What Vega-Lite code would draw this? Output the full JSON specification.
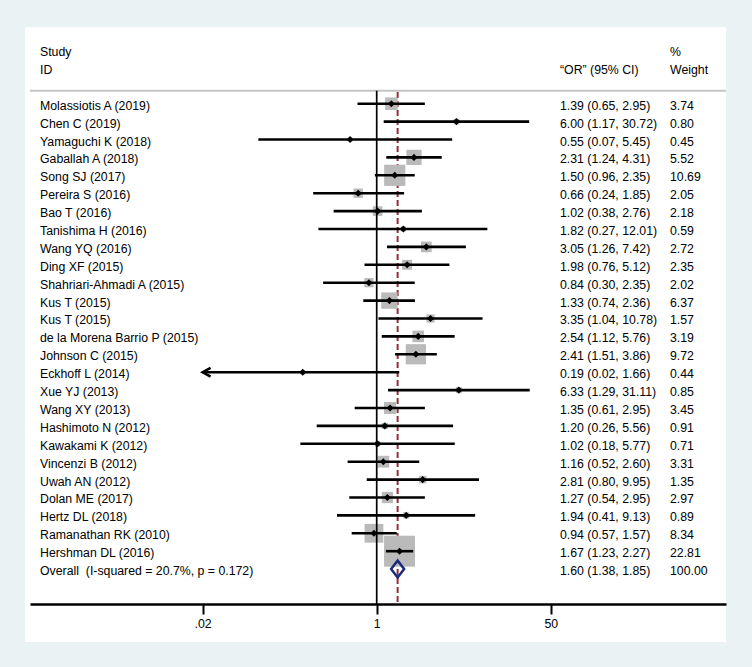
{
  "$schema": "https://vega.github.io/schema/vega-lite/v6.json",
  "width": 701,
  "height": 615,
  "autosize": {"type": "none"},
  "padding": {"left": 25, "top": 27, "right": 26, "bottom": 25},
  "background": "#eaf2f3",
  "config": {
    "view": {"fill": "white", "stroke": null},
    "axisY": {"disable": true},
    "text": {"font": "Liberation Sans", "fontSize": 12.3, "color": "black"}
  },
  "data": {
    "values": [
      {"row": 0, "study": "Molassiotis A (2019)", "or": 1.39, "lo": 0.65, "hi": 2.95, "w": 3.74, "type": "study"},
      {"row": 1, "study": "Chen C (2019)", "or": 6.00, "lo": 1.17, "hi": 30.72, "w": 0.80, "type": "study"},
      {"row": 2, "study": "Yamaguchi K (2018)", "or": 0.55, "lo": 0.07, "hi": 5.45, "w": 0.45, "type": "study"},
      {"row": 3, "study": "Gaballah A (2018)", "or": 2.31, "lo": 1.24, "hi": 4.31, "w": 5.52, "type": "study"},
      {"row": 4, "study": "Song SJ (2017)", "or": 1.50, "lo": 0.96, "hi": 2.35, "w": 10.69, "type": "study"},
      {"row": 5, "study": "Pereira S (2016)", "or": 0.66, "lo": 0.24, "hi": 1.85, "w": 2.05, "type": "study"},
      {"row": 6, "study": "Bao T (2016)", "or": 1.02, "lo": 0.38, "hi": 2.76, "w": 2.18, "type": "study"},
      {"row": 7, "study": "Tanishima H (2016)", "or": 1.82, "lo": 0.27, "hi": 12.01, "w": 0.59, "type": "study"},
      {"row": 8, "study": "Wang YQ (2016)", "or": 3.05, "lo": 1.26, "hi": 7.42, "w": 2.72, "type": "study"},
      {"row": 9, "study": "Ding XF (2015)", "or": 1.98, "lo": 0.76, "hi": 5.12, "w": 2.35, "type": "study"},
      {"row": 10, "study": "Shahriari-Ahmadi A (2015)", "or": 0.84, "lo": 0.30, "hi": 2.35, "w": 2.02, "type": "study"},
      {"row": 11, "study": "Kus T (2015)", "or": 1.33, "lo": 0.74, "hi": 2.36, "w": 6.37, "type": "study"},
      {"row": 12, "study": "Kus T (2015)", "or": 3.35, "lo": 1.04, "hi": 10.78, "w": 1.57, "type": "study"},
      {"row": 13, "study": "de la Morena Barrio P (2015)", "or": 2.54, "lo": 1.12, "hi": 5.76, "w": 3.19, "type": "study"},
      {"row": 14, "study": "Johnson C (2015)", "or": 2.41, "lo": 1.51, "hi": 3.86, "w": 9.72, "type": "study"},
      {"row": 15, "study": "Eckhoff L (2014)", "or": 0.19, "lo": 0.02, "hi": 1.66, "w": 0.44, "type": "study"},
      {"row": 16, "study": "Xue YJ (2013)", "or": 6.33, "lo": 1.29, "hi": 31.11, "w": 0.85, "type": "study"},
      {"row": 17, "study": "Wang XY (2013)", "or": 1.35, "lo": 0.61, "hi": 2.95, "w": 3.45, "type": "study"},
      {"row": 18, "study": "Hashimoto N (2012)", "or": 1.20, "lo": 0.26, "hi": 5.56, "w": 0.91, "type": "study"},
      {"row": 19, "study": "Kawakami K (2012)", "or": 1.02, "lo": 0.18, "hi": 5.77, "w": 0.71, "type": "study"},
      {"row": 20, "study": "Vincenzi B (2012)", "or": 1.16, "lo": 0.52, "hi": 2.60, "w": 3.31, "type": "study"},
      {"row": 21, "study": "Uwah AN (2012)", "or": 2.81, "lo": 0.80, "hi": 9.95, "w": 1.35, "type": "study"},
      {"row": 22, "study": "Dolan ME (2017)", "or": 1.27, "lo": 0.54, "hi": 2.95, "w": 2.97, "type": "study"},
      {"row": 23, "study": "Hertz DL (2018)", "or": 1.94, "lo": 0.41, "hi": 9.13, "w": 0.89, "type": "study"},
      {"row": 24, "study": "Ramanathan RK (2010)", "or": 0.94, "lo": 0.57, "hi": 1.57, "w": 8.34, "type": "study"},
      {"row": 25, "study": "Hershman DL (2016)", "or": 1.67, "lo": 1.23, "hi": 2.27, "w": 22.81, "type": "study"},
      {"row": 26, "study": "Overall\u00a0 (I-squared = 20.7%, p = 0.172)", "or": 1.60, "lo": 1.38, "hi": 1.85, "w": 100.00, "type": "overall"}
    ]
  },
  "layer": [
    {
      "data": {"values": [{}]},
      "mark": {"type": "rule", "color": "#c4c4c4", "strokeWidth": 2},
      "encoding": {
        "x": {"datum": 0.0004145, "type": "quantitative", "scale": {"type": "log", "domain": [0.0004145, 2557], "range": [5, 701], "nice": false, "zero": false}},
        "x2": {"datum": 2557},
        "y": {"datum": -0.726, "type": "quantitative", "scale": {"domain": [-4.285, 30.073], "reverse": true, "nice": false, "zero": false}}
      }
    },
    {
      "transform": [{"filter": "datum.type == 'overall'"}],
      "mark": {"type": "rule", "color": "#8f2f3f", "strokeWidth": 2, "strokeDash": [6, 3]},
      "encoding": {
        "x": {"field": "or", "type": "quantitative"},
        "y": {"datum": -0.654, "type": "quantitative"},
        "y2": {"datum": 27.95}
      }
    },
    {
      "transform": [{"filter": "datum.type == 'study'"}],
      "mark": {"type": "point", "shape": "square", "filled": true, "color": "#bababa", "opacity": 1},
      "encoding": {
        "x": {"field": "or", "type": "quantitative"},
        "y": {"field": "row", "type": "quantitative"},
        "size": {"field": "w", "type": "quantitative", "scale": {"domain": [0, 22.81], "range": [0, 960]}, "legend": null}
      }
    },
    {
      "data": {"values": [{}]},
      "mark": {"type": "rule", "color": "black", "strokeWidth": 1.7},
      "encoding": {
        "x": {"datum": 1, "type": "quantitative"},
        "y": {"datum": -0.726, "type": "quantitative"},
        "y2": {"datum": 27.95}
      }
    },
    {
      "transform": [{"filter": "datum.type == 'study'"}],
      "mark": {"type": "rule", "color": "black", "strokeWidth": 2.6},
      "encoding": {
        "x": {"field": "lo", "type": "quantitative", "title": null, "axis": {"values": [0.02, 1, 50], "labelExpr": "datum.value < 0.5 ? '.02' : (datum.value < 5 ? '1' : '50')", "title": null, "offset": -38, "domainColor": "black", "domainWidth": 2.5, "tickColor": "black", "tickWidth": 2, "tickSize": 10, "labelFont": "Liberation Sans", "labelFontSize": 12.3, "labelColor": "black", "labelPadding": 3, "grid": false, "domainCap": "butt"}},
        "x2": {"field": "hi"},
        "y": {"field": "row", "type": "quantitative"}
      }
    },
    {
      "transform": [{"filter": "datum.type == 'study'"}],
      "mark": {"type": "point", "shape": "diamond", "filled": true, "color": "black", "size": 50, "opacity": 1},
      "encoding": {
        "x": {"field": "or", "type": "quantitative"},
        "y": {"field": "row", "type": "quantitative"}
      }
    },
    {
      "transform": [{"filter": "datum.type == 'study' && datum.lo <= 0.02"}],
      "mark": {"type": "point", "shape": "M1,-0.55L0,0L1,0.55", "filled": false, "stroke": "black", "strokeWidth": 2.5, "size": 256, "opacity": 1},
      "encoding": {
        "x": {"field": "lo", "type": "quantitative"},
        "y": {"field": "row", "type": "quantitative"}
      }
    },
    {
      "transform": [{"filter": "datum.type == 'overall'"}],
      "mark": {"type": "point", "shape": "M-1,0L0,-1.3L1,0L0,1.3Z", "filled": false, "stroke": "#1c2a7a", "strokeWidth": 2.5, "size": 169, "opacity": 1},
      "encoding": {
        "x": {"field": "or", "type": "quantitative"},
        "y": {"field": "row", "type": "quantitative"}
      }
    },
    {
      "mark": {"type": "text", "align": "left", "baseline": "middle", "dy": 2},
      "encoding": {
        "x": {"datum": 0.0005189, "type": "quantitative"},
        "y": {"field": "row", "type": "quantitative"},
        "text": {"field": "study"}
      }
    },
    {
      "transform": [{"calculate": "format(datum.or, '.2f') + ' (' + format(datum.lo, '.2f') + ', ' + format(datum.hi, '.2f') + ')'", "as": "ci"}],
      "mark": {"type": "text", "align": "left", "baseline": "middle", "dy": 2},
      "encoding": {
        "x": {"datum": 61.4, "type": "quantitative"},
        "y": {"field": "row", "type": "quantitative"},
        "text": {"field": "ci"}
      }
    },
    {
      "mark": {"type": "text", "align": "left", "baseline": "middle", "dy": 2},
      "encoding": {
        "x": {"datum": 727, "type": "quantitative"},
        "y": {"field": "row", "type": "quantitative"},
        "text": {"field": "w", "type": "quantitative", "format": ".2f"}
      }
    },
    {
      "data": {"values": [{}]},
      "mark": {"type": "text", "align": "left", "baseline": "middle", "dy": 2, "text": "Study"},
      "encoding": {"x": {"datum": 0.0005189, "type": "quantitative"}, "y": {"datum": -3, "type": "quantitative"}}
    },
    {
      "data": {"values": [{}]},
      "mark": {"type": "text", "align": "left", "baseline": "middle", "dy": 2, "text": "ID"},
      "encoding": {"x": {"datum": 0.0005189, "type": "quantitative"}, "y": {"datum": -2, "type": "quantitative"}}
    },
    {
      "data": {"values": [{}]},
      "mark": {"type": "text", "align": "left", "baseline": "middle", "dy": 2, "text": "\u201cOR\u201d (95% CI)"},
      "encoding": {"x": {"datum": 61.4, "type": "quantitative"}, "y": {"datum": -2, "type": "quantitative"}}
    },
    {
      "data": {"values": [{}]},
      "mark": {"type": "text", "align": "left", "baseline": "middle", "dy": 2, "text": "%"},
      "encoding": {"x": {"datum": 727, "type": "quantitative"}, "y": {"datum": -3, "type": "quantitative"}}
    },
    {
      "data": {"values": [{}]},
      "mark": {"type": "text", "align": "left", "baseline": "middle", "dy": 2, "text": "Weight"},
      "encoding": {"x": {"datum": 727, "type": "quantitative"}, "y": {"datum": -2, "type": "quantitative"}}
    }
  ]
}
